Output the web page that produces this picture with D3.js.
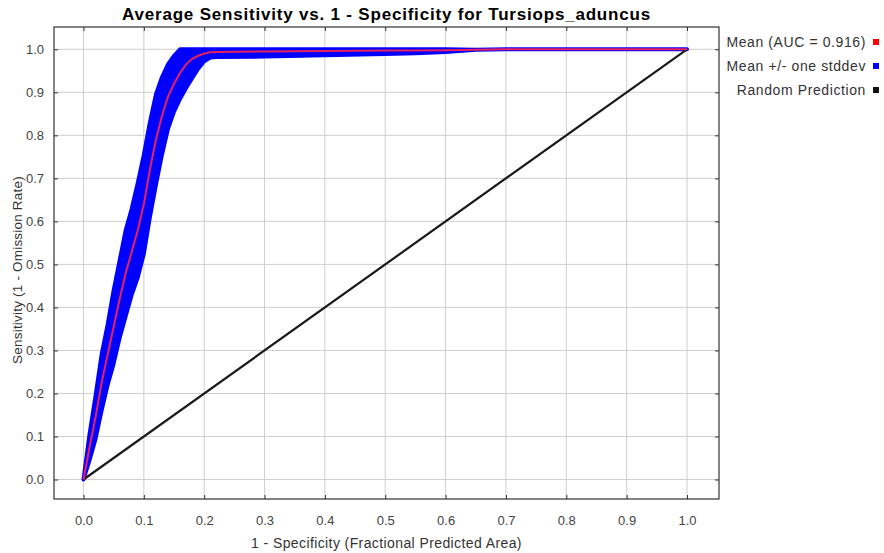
<!DOCTYPE html>
<meta charset="utf-8">
<style>
body { margin: 0; background: #fff; }
svg { font-family: "Liberation Sans", Arial, sans-serif; }
.tick text { fill: #444; font-size: 13px; }
.grid line { stroke: #cfcfcf; stroke-width: 1; }
</style>
<svg width="884" height="553"></svg>
<script src="https://cdn.jsdelivr.net/npm/d3@7"></script>
<script>

// 1 - specificity (fractional predicted area)
var fpa = [0, 0.01, 0.02, 0.03, 0.04, 0.05, 0.06, 0.07, 0.08, 0.09, 0.1, 0.11, 0.12, 0.13, 0.14,
           0.15, 0.16, 0.17, 0.18, 0.19, 0.2, 0.21, 0.22, 0.3, 0.4, 0.5, 0.55, 0.6, 0.65, 0.7, 0.8, 0.9, 1.0];
// mean sensitivity
var meanSens = [0, 0.075, 0.145, 0.225, 0.29, 0.355, 0.42, 0.48, 0.53, 0.58, 0.64, 0.72, 0.79, 0.845, 0.89,
                0.92, 0.945, 0.965, 0.978, 0.985, 0.99, 0.993, 0.994, 0.995, 0.996, 0.997, 0.997, 0.998, 0.999, 1.0, 1.0, 1.0, 1.0];
// one standard deviation
var sdSens = [0, 0.03, 0.05, 0.065, 0.07, 0.085, 0.09, 0.1, 0.1, 0.11, 0.115, 0.11, 0.105, 0.09, 0.075,
              0.065, 0.06, 0.055, 0.045, 0.03, 0.018, 0.012, 0.012, 0.012, 0.01, 0.008, 0.006, 0.004, 0, 0, 0, 0, 0];

var xTicks = [0, 0.1, 0.2, 0.3, 0.4, 0.5, 0.6, 0.7, 0.8, 0.9, 1.0];
var yTicks = [0, 0.1, 0.2, 0.3, 0.4, 0.5, 0.6, 0.7, 0.8, 0.9, 1.0];

var legendLabels = ["Mean (AUC = 0.916)", "Mean +/- one stddev", "Random Prediction"];
var legendColors = ["#ff0000", "#0000ff", "#111111"];

var frame = {left: 54, right: 719, top: 27, bottom: 499};

var x = d3.scaleLinear().domain([0, 1]).range([83.5, 687]);
var y = d3.scaleLinear().domain([0, 1]).range([479.5, 49.3]);

var svg = d3.select("svg");

var rows = fpa.map(function(d, i) {
  return {x: d, m: meanSens[i], lo: Math.max(0, meanSens[i] - sdSens[i]), hi: Math.min(1, meanSens[i] + sdSens[i])};
});

// grid
var grid = svg.append("g").attr("class", "grid");
grid.selectAll("line.v").data(xTicks).enter().append("line")
    .attr("x1", x).attr("x2", x)
    .attr("y1", frame.top).attr("y2", frame.bottom);
grid.selectAll("line.h").data(yTicks).enter().append("line")
    .attr("y1", y).attr("y2", y)
    .attr("x1", frame.left).attr("x2", frame.right);

// stddev band
var band = d3.area()
    .x(function(d) { return x(d.x); })
    .y0(function(d) { return y(d.lo); })
    .y1(function(d) { return y(d.hi); });

svg.append("path")
    .datum(rows)
    .attr("d", band)
    .attr("fill", "#0000ff")
    .attr("stroke", "#0000ff")
    .attr("stroke-width", 4)
    .attr("stroke-linejoin", "round");

// random prediction
svg.append("path")
    .datum([0, 1])
    .attr("d", d3.line().x(x).y(y))
    .attr("fill", "none")
    .attr("stroke", "#1a1a1a")
    .attr("stroke-width", 2.2);

// mean
svg.append("path")
    .datum(rows)
    .attr("d", d3.line().x(function(d) { return x(d.x); }).y(function(d) { return y(d.m); }))
    .attr("fill", "none")
    .attr("stroke", "#e8205e")
    .attr("stroke-width", 2);

// axes
var fmt = d3.format(".1f");
function inner(g) { g.select(".domain").remove(); g.selectAll(".tick line").attr("stroke", "#333"); }
svg.append("g")
    .attr("transform", "translate(0," + frame.bottom + ")")
    .call(d3.axisBottom(x).tickValues(xTicks).tickFormat(fmt).tickSize(-4).tickPadding(17))
    .call(inner);
svg.append("g")
    .attr("transform", "translate(" + frame.left + ",0)")
    .call(d3.axisLeft(y).tickValues(yTicks).tickFormat(fmt).tickSize(-4).tickPadding(10))
    .call(inner);
svg.append("g")
    .attr("transform", "translate(0," + frame.top + ")")
    .call(d3.axisTop(x).tickValues(xTicks).tickFormat("").tickSize(-4))
    .call(inner);
svg.append("g")
    .attr("transform", "translate(" + frame.right + ",0)")
    .call(d3.axisRight(y).tickValues(yTicks).tickFormat("").tickSize(-4))
    .call(inner);

svg.append("rect")
    .attr("x", frame.left).attr("y", frame.top)
    .attr("width", frame.right - frame.left).attr("height", frame.bottom - frame.top)
    .attr("fill", "none").attr("stroke", "#333").attr("stroke-width", 1.2);

// titles
svg.append("text")
    .attr("x", (frame.left + frame.right) / 2).attr("y", 20)
    .attr("text-anchor", "middle")
    .style("font-weight", "bold").style("font-size", "17px").style("letter-spacing", "0.8px")
    .text("Average Sensitivity vs. 1 - Specificity for Tursiops_aduncus");

svg.append("text")
    .attr("x", (frame.left + frame.right) / 2).attr("y", 548)
    .attr("text-anchor", "middle")
    .style("font-size", "14px").style("letter-spacing", "0.4px").style("fill", "#333")
    .text("1 - Specificity (Fractional Predicted Area)");

svg.append("text")
    .attr("transform", "translate(22,270) rotate(-90)")
    .attr("text-anchor", "middle")
    .style("font-size", "13.5px").style("letter-spacing", "0.2px").style("fill", "#333")
    .text("Sensitivity (1 - Omission Rate)");

// legend
var leg = svg.append("g").selectAll("g")
    .data(legendLabels).enter().append("g")
    .attr("transform", function(d, i) { return "translate(0," + (42 + i * 24) + ")"; });
leg.append("text")
    .attr("x", 866).attr("y", 5)
    .attr("text-anchor", "end")
    .style("font-size", "14px").style("letter-spacing", "0.6px").style("fill", "#333")
    .text(function(d) { return d; });
leg.append("rect")
    .attr("x", 873).attr("y", -3)
    .attr("width", 6).attr("height", 6)
    .attr("fill", function(d, i) { return legendColors[i]; });

</script>
